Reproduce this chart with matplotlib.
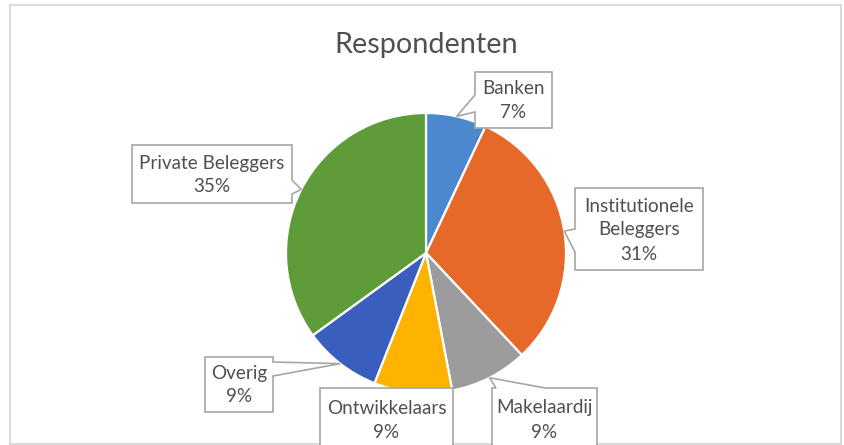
import matplotlib
matplotlib.use("Agg")
import matplotlib.pyplot as plt
import numpy as np
from matplotlib.patches import Polygon, Rectangle

plt.rcParams['font.family'] = ['Lato', 'DejaVu Sans']

# ---- data ----
categories = ["Banken", "Institutionele Beleggers", "Makelaardij",
              "Ontwikkelaars", "Overig", "Private Beleggers"]
label_texts = ["Banken", "Institutionele\nBeleggers", "Makelaardij",
               "Ontwikkelaars", "Overig", "Private Beleggers"]
values = [7, 31, 9, 9, 9, 35]
colors = ["#4C88CE", "#E7692A", "#9C9C9C", "#FDB300", "#3A5EBD", "#5D9C39"]
title = "Respondenten"

# ---- layout (pixels, measured from top-left) ----
W, H = 844, 445
cx, cy, R = 426, 253, 140
# box: (x0, y0, x1, y1), wedge side, wedge base interval
boxes = [
    ((475, 72, 552, 128), "left", (95, 112)),
    ((575, 188, 703, 270), "left", (229, 252)),
    ((492, 388, 597, 460), "top", (496, 545)),
    ((320, 388, 453, 460), None, None),
    ((205, 357, 273, 412), "right", (362, 376)),
    ((132, 145, 292, 203), "right", (180, 194)),
]
text_centers_y = [101, 230, 420, 420, 385, 175]

def Y(y):
    return H - y

fig = plt.figure(figsize=(W / 100, H / 100), dpi=100)
ax = fig.add_axes([0, 0, 1, 1])

wedges, _ = ax.pie(values, colors=colors, startangle=90, counterclock=False,
                   center=(cx, Y(cy)), radius=R,
                   wedgeprops=dict(edgecolor="white", linewidth=1.6))
ax.set_xlim(0, W)
ax.set_ylim(0, H)
ax.set_aspect("auto")
ax.axis("off")

# chart border
ax.add_patch(Rectangle((10, Y(444)), 831, 439, fill=False,
                       edgecolor="#D9D9D9", linewidth=1.4, zorder=0))

ax.text(cx, Y(45), title, ha="center", va="center", fontsize=20.8, color="#505050")

total = sum(values)
cum = 0
edge_col = "#A6A6A6"
for i, v in enumerate(values):
    mid = (cum + v / 2) / total * 360.0
    cum += v
    th = np.deg2rad(mid)
    tx, ty = cx + R * np.sin(th), cy - R * np.cos(th)
    (x0, y0, x1, y1), side, base = boxes[i]
    pts = [(x0, y0)]
    if side == "top":
        pts += [(base[0], y0), (tx, ty), (base[1], y0)]
    pts += [(x1, y0)]
    if side == "right":
        pts += [(x1, base[0]), (tx, ty), (x1, base[1])]
    pts += [(x1, y1), (x0, y1)]
    if side == "left":
        pts += [(x0, base[1]), (tx, ty), (x0, base[0])]
    poly = Polygon([(px, Y(py)) for px, py in pts], closed=True,
                   facecolor="white", edgecolor=edge_col, linewidth=1.2, zorder=3)
    ax.add_patch(poly)
    pct = round(v / total * 100)
    ax.text((x0 + x1) / 2, Y(text_centers_y[i]), f"{label_texts[i]}\n{pct}%",
            ha="center", va="center", fontsize=13.6, color="#505050",
            linespacing=1.5, zorder=4)

fig.savefig("out.png", dpi=100, facecolor="white")
